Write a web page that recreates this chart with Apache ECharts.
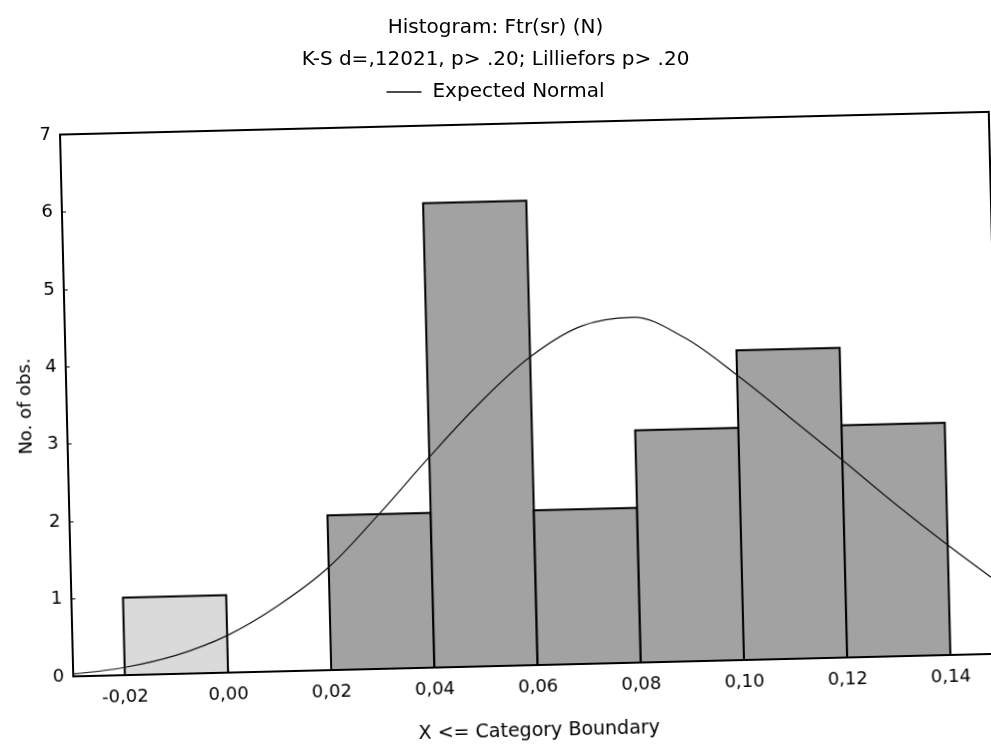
<!DOCTYPE html>
<html>
<head>
<meta charset="utf-8">
<script src="https://cdn.jsdelivr.net/npm/echarts@6/dist/echarts.min.js"></script>
<style>
  html, body { margin: 0; padding: 0; background: #fff; overflow: hidden; }
  #wrap { position: relative; width: 991px; height: 747px; overflow: hidden; background: #fff; }
  #plot { position: absolute; left: 0; top: 0; width: 1000px; height: 747px;
          transform-origin: 495.5px 373.5px; transform: rotate(-1.4deg); }
  #head { position: absolute; left: 0; top: 0; width: 991px; height: 110px; }
</style>
</head>
<body>
<div id="wrap">
  <div id="plot"></div>
  <div id="head"></div>
</div>
<script>
// ---- data ----
const binEdges = [-0.02, 0.00, 0.02, 0.04, 0.06, 0.08, 0.10, 0.12, 0.14];
const counts = [1, 0, 2, 6, 2, 3, 4, 3];
const xTickLabels = ['-0,02', '0,00', '0,02', '0,04', '0,06', '0,08', '0,10', '0,12', '0,14'];
const curveX = [-0.03, -0.02, -0.01, 0.00, 0.01, 0.02, 0.03, 0.04, 0.05, 0.06, 0.07, 0.08, 0.09, 0.10, 0.11, 0.12, 0.13, 0.14, 0.15];
const curveY = [0.03, 0.10, 0.24, 0.48, 0.85, 1.33, 2.00, 2.72, 3.40, 3.98, 4.36, 4.46, 4.18, 3.68, 3.12, 2.55, 1.97, 1.42, 0.90];
const titleText = 'Histogram: Ftr(sr) (N)';
const subtitleText = 'K-S d=,12021, p> .20; Lilliefors p> .20';
const legendName = 'Expected Normal';

const FONT = 'DejaVu Sans';

// histogram rows: [start, end, count]
const histData = counts.map((c, i) => [binEdges[i], binEdges[i + 1], c]);
const curveData = curveX.map((x, i) => [x, curveY[i]]);

const plot = echarts.init(document.getElementById('plot'), null, { renderer: 'canvas' });
plot.setOption({
  animation: false,
  backgroundColor: 'transparent',
  grid: { left: 66, top: 124, width: 929, height: 544, show: true,
          borderColor: '#000', borderWidth: 2, backgroundColor: 'transparent' },
  xAxis: {
    type: 'value', min: -0.03, max: 0.15,
    name: 'X <= Category Boundary', nameLocation: 'middle', nameGap: 57,
    nameTextStyle: { fontFamily: FONT, fontSize: 19, color: '#000' },
    axisLine: { show: true, onZero: false, lineStyle: { color: '#000', width: 2 } },
    axisTick: { show: true, inside: true, length: 3, customValues: binEdges, lineStyle: { color: '#000' } },
    axisLabel: {
      customValues: binEdges, margin: 13,
      fontFamily: FONT, fontSize: 18, color: '#000',
      formatter: v => {
        const i = binEdges.findIndex(e => Math.abs(e - v) < 1e-9);
        return i >= 0 ? xTickLabels[i] : '';
      }
    },
    splitLine: { show: false }
  },
  yAxis: {
    type: 'value', min: 0, max: 7, interval: 1,
    name: 'No. of obs.', nameLocation: 'middle', nameGap: 30, nameRotate: 90,
    nameTextStyle: { fontFamily: FONT, fontSize: 18, color: '#000' },
    axisLine: { show: true, onZero: false, lineStyle: { color: '#000', width: 2 } },
    axisTick: { show: true, inside: true, length: 4, lineStyle: { color: '#000' } },
    axisLabel: { margin: 9, fontFamily: FONT, fontSize: 18, color: '#000' },
    splitLine: { show: false }
  },
  series: [
    {
      type: 'custom',
      name: 'Histogram',
      data: histData,
      encode: { x: [0, 1], y: 2 },
      clip: true,
      renderItem: function (params, api) {
        const x0 = api.value(0), x1 = api.value(1), y = api.value(2);
        if (!y) return null;
        const pTop = api.coord([x0, y]);
        const pBot = api.coord([x1, 0]);
        return {
          type: 'rect',
          shape: { x: pTop[0], y: pTop[1], width: pBot[0] - pTop[0], height: pBot[1] - pTop[1] },
          style: { fill: params.dataIndex === 0 ? '#dadada' : '#a2a2a2', stroke: '#000', lineWidth: 2 }
        };
      },
      z: 2
    },
    {
      type: 'line',
      name: legendName,
      data: curveData,
      smooth: 0.35,
      showSymbol: false,
      clip: true,
      lineStyle: { color: '#111', width: 1.2 },
      z: 3
    }
  ]
});

const head = echarts.init(document.getElementById('head'), null, { renderer: 'canvas' });
head.setOption({
  animation: false,
  backgroundColor: 'transparent',
  title: [
    { text: titleText, left: 'center', top: 13,
      textStyle: { fontFamily: FONT, fontSize: 20, fontWeight: 'normal', color: '#000' } },
    { text: subtitleText, left: 'center', top: 45,
      textStyle: { fontFamily: FONT, fontSize: 20, fontWeight: 'normal', color: '#000' } }
  ],
  legend: {
    data: [legendName], left: 'center', top: 77,
    icon: 'rect', itemWidth: 35, itemHeight: 1.5,
    textStyle: { fontFamily: FONT, fontSize: 20, color: '#000', padding: [0, 0, 0, 6] }
  },
  grid: { left: 0, top: 0, width: 1, height: 1, show: false },
  xAxis: { type: 'value', show: false },
  yAxis: { type: 'value', show: false },
  series: [{ type: 'line', name: legendName, data: [], color: '#111', lineStyle: { color: '#111', width: 1.2 } }]
});
</script>
</body>
</html>
